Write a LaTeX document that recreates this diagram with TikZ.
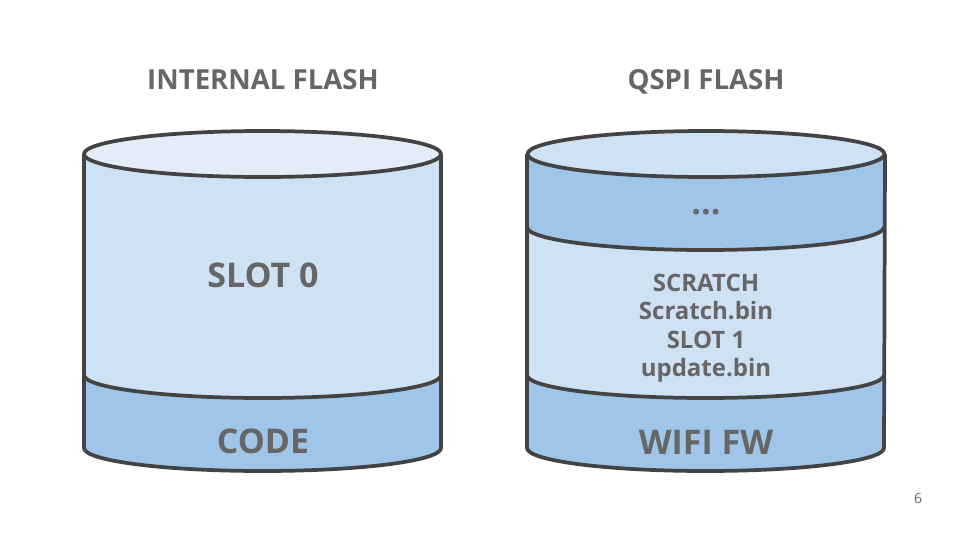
\documentclass[tikz,border=0pt]{standalone}
\usepackage{fontspec}
\setmainfont{Open Sans}
\definecolor{txt}{HTML}{666666}
\definecolor{edge}{HTML}{434343}
\definecolor{lite}{HTML}{CFE2F3}
\definecolor{liter}{HTML}{E2EDF8}
\definecolor{band}{HTML}{9FC5E8}
\tikzset{
  hr/.style={x radius=133.875pt, y radius=17.25pt},
  lo/.style={hr, start angle=180, end angle=360},
  bk/.style={hr, start angle=360, end angle=180},
  outl/.style={draw=edge, line width=2.8pt, line join=round},
  ttl/.style={text=txt, font=\bfseries\fontsize{20.7pt}{25pt}\selectfont, inner sep=0pt, anchor=base},
  big/.style={text=txt, font=\bfseries\fontsize{25.5pt}{30pt}\selectfont, inner sep=0pt, anchor=base},
  mid/.style={text=txt, font=\bfseries\fontsize{18pt}{21pt}\selectfont, inner sep=0pt, anchor=base},
}
\begin{document}
\begin{tikzpicture}[x=0.75pt,y=0.75pt]
\useasboundingbox (0,0) rectangle (960,-540);
\fill[white] (0,0) rectangle (960,-540);
% ---------- left cylinder ----------
\path[fill=band] (84,-375) -- (84,-448) arc[lo] -- (441,-375) arc[bk] -- cycle;
\path[fill=lite] (84,-154) -- (84,-375) arc[lo] -- (441,-154) arc[bk] -- cycle;
\draw[outl] (84,-154) -- (84,-448) arc[lo] -- (441,-154);
\draw[outl] (84,-375) arc[lo];
\draw[outl, fill=liter] (262.5,-154) ellipse[hr];
% ---------- right cylinder ----------
\path[fill=band] (527,-375) -- (527,-448) arc[lo] -- (885,-375) arc[bk] -- cycle;
\path[fill=lite] (527,-227) -- (527,-375) arc[lo] -- (885,-227) arc[bk] -- cycle;
\path[fill=band] (527,-154) -- (527,-227) arc[lo] -- (885,-154) arc[bk] -- cycle;
\draw[outl] (527,-154) -- (527,-448) arc[lo] -- (885,-154);
\draw[outl] (527,-375) arc[lo];
\draw[outl] (527,-227) arc[lo];
\draw[outl, fill=lite] (706,-154) ellipse[hr];
% ---------- texts ----------
\node[ttl] (t1) at (263,-89.5) {INTERNAL FLASH};
\node[ttl] (t2) at (706,-89.5) {QSPI FLASH};
\node[big] (slot0) at (263,-287) {SLOT 0};
\node[big] (code) at (263,-453.5) {CODE};
\node[big] (dots) at (706,-214) {...};
\node[mid] (m1) at (706,-291) {SCRATCH};
\node[mid] (m2) at (706,-319.5) {Scratch.bin};
\node[mid] (m3) at (706,-348) {SLOT 1};
\node[mid] (m4) at (706,-376.5) {update.bin};
\node[big] (wifi) at (706,-454) {WIFI FW};
\node[text=txt, font=\fontsize{10.5pt}{12pt}\selectfont, inner sep=0pt, anchor=base] (pg) at (918,-503) {6};
\end{tikzpicture}
\end{document}
